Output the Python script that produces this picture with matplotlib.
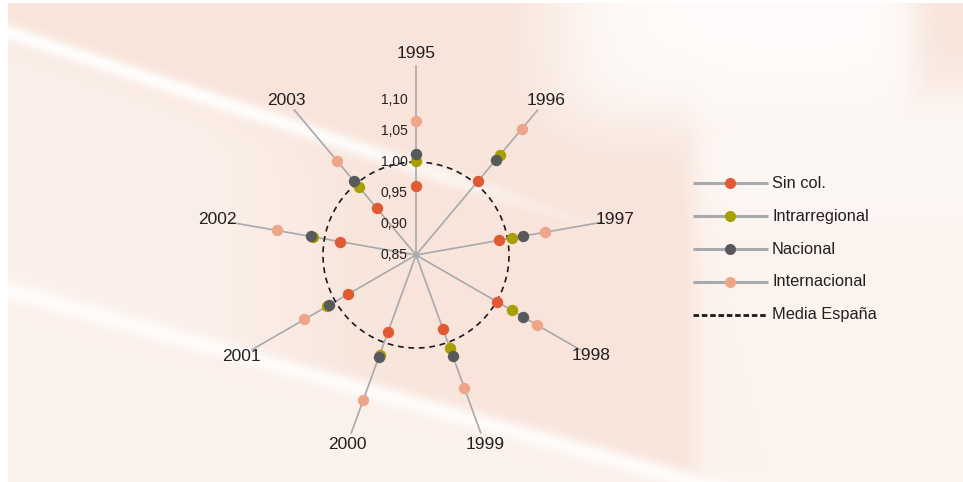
import numpy as np
import matplotlib
matplotlib.use("Agg")
import matplotlib.pyplot as plt

plt.rcParams['font.family'] = ['Liberation Sans', 'DejaVu Sans']

# Values (index, Media España = 1.00)
years = ['1995', '1996', '1997', '1998', '1999', '2000', '2001', '2002', '2003']
sin_col = [0.961, 1.005, 0.986, 1.001, 0.977, 0.983, 0.977, 0.975, 0.948]
intrarregional = [1.002, 1.060, 1.007, 1.029, 1.010, 1.021, 1.016, 1.018, 0.994]
nacional = [1.013, 1.051, 1.025, 1.049, 1.023, 1.025, 1.012, 1.022, 1.006]
internacional = [1.066, 1.116, 1.062, 1.075, 1.078, 1.099, 1.058, 1.078, 1.047]
media_espana = 1.00
r_ticks = [0.85, 0.90, 0.95, 1.00, 1.05, 1.10]
r_tick_labels = ['0,85', '0,90', '0,95', '1,00', '1,05', '1,10']

series = [
    ('Sin col.', sin_col, '#e05a33'),
    ('Intrarregional', intrarregional, '#a89f00'),
    ('Nacional', nacional, '#58595b'),
    ('Internacional', internacional, '#eea68b'),
]
spoke_color = '#a7a9ac'

W, H = 963, 482
fig = plt.figure(figsize=(W / 100, H / 100), dpi=100)
fig.patch.set_facecolor('white')

# ---- background picture (soft peach with white streaks) ----
bg = fig.add_axes([0, 0, 1, 1])
bg.set_xlim(0, W)
bg.set_ylim(H, 0)
bg.axis('off')
xs = np.arange(8, W)
ys = np.arange(3, H)
X, Y = np.meshgrid(xs, ys)
dark = np.array([248, 228, 218]) / 255
light = np.array([252, 243, 238]) / 255
white = np.array([1.0, 1.0, 1.0])

sig = lambda z: 1 / (1 + np.exp(-z))
# lighter on the right side and bottom left
t = np.maximum(sig((X - 695) / 6) * sig((Y - 90) / 20), 0)
band2_y = 290 + 0.28 * (X - 8)
t = np.maximum(t, sig((Y - band2_y) / 8) * 0.9)
band1_y = 32 + 0.33 * (X - 8)
t = np.maximum(t, sig((Y - band1_y - 10) / 8) * sig((300 - X) / 40) * 0.8)
img = dark[None, None, :] * (1 - t[..., None]) + light[None, None, :] * t[..., None]

w1 = np.exp(-((Y - band1_y) / 9) ** 2) * sig((480 - X) / 60) * 0.95
w2 = np.exp(-((Y - band2_y) / 10) ** 2) * 0.85
w3 = sig((X - 560) / 25) * sig((915 - X) / 10) * sig((120 - Y) / 20) * 0.85
w4 = sig((X - 700) / 15) * sig((200 - Y) / 25) * sig((Y - 100) / 15) * 0.5
wt = np.clip(np.maximum.reduce([w1, w2, w3, w4]), 0, 1)
img = img * (1 - wt[..., None]) + white[None, None, :] * wt[..., None]
bg.imshow(img, extent=(8, W, H, 3), aspect='auto', interpolation='bilinear', zorder=0)

# ---- radar chart ----
cx, cy, rad = 416, 255, 190
ax = fig.add_axes([(cx - rad) / W, (H - cy - rad) / H, 2 * rad / W, 2 * rad / H],
                  projection='polar')
ax.set_facecolor('none')
ax.set_theta_zero_location('N')
ax.set_theta_direction(-1)
r_min, r_max = 0.85, 0.85 + rad / 620
ax.set_ylim(r_min, r_max)
ax.grid(False)
ax.spines['polar'].set_visible(False)
ax.set_xticks([])
ax.set_yticks([])

theta = np.deg2rad(np.arange(len(years)) * 40)
for th in theta:
    ax.plot([th, th], [r_min, r_max], color=spoke_color, lw=1.2, zorder=1)
ax.plot([0], [r_min], 'o', color=spoke_color, ms=3, zorder=1)

circ = np.linspace(0, 2 * np.pi, 400)
ax.plot(circ, np.full_like(circ, media_espana), color='#1a1a1a', lw=1.2,
        dashes=(3.5, 2.8), zorder=2)

for name, vals, col in series:
    ax.plot(theta, vals, 'o', ls='none', color=col, ms=8.2, mew=0, zorder=3)

for th, yr in zip(theta, years):
    ax.text(th, 0.85 + 202 / 620, yr, ha='center', va='center', fontsize=12.5,
            color='#231f20')

for rv, lab in zip(r_ticks, r_tick_labels):
    ax.annotate(lab, xy=(0, rv), xytext=(-6, 0), textcoords='offset points',
                ha='right', va='center', fontsize=10, color='#231f20', zorder=4)

# ---- legend ----
lg = fig.add_axes([0, 0, 1, 1])
lg.set_facecolor('none')
lg.set_xlim(0, W)
lg.set_ylim(H, 0)
lg.axis('off')
for i, (name, vals, col) in enumerate(series):
    y = 183 + 33 * i
    lg.plot([693, 768], [y, y], color=spoke_color, lw=2.2, solid_capstyle='butt')
    lg.plot([730], [y], 'o', color=col, ms=8, mew=0)
    lg.text(772, y, name, ha='left', va='center', fontsize=11.8, color='#231f20')
y = 183 + 33 * 4
lg.plot([693, 768], [y, y], color='#1a1a1a', lw=2, dashes=(2, 1))
lg.text(772, y, 'Media España', ha='left', va='center', fontsize=11.8, color='#231f20')

fig.savefig('out.png', dpi=100)
